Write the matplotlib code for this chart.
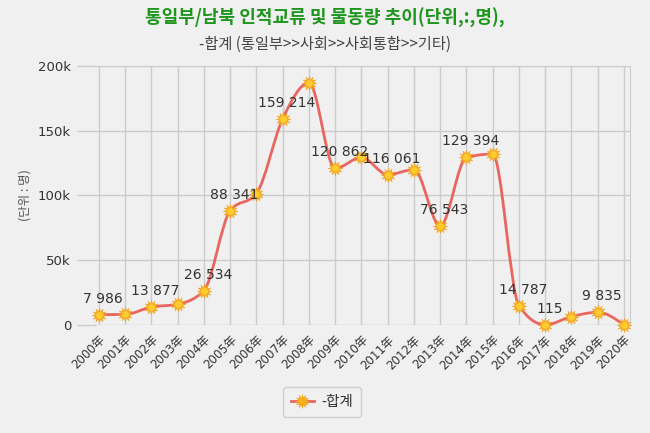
import matplotlib
matplotlib.use("Agg")
import matplotlib.pyplot as plt
import numpy as np
from matplotlib.path import Path
from matplotlib.patches import PathPatch
from matplotlib.lines import Line2D

plt.rcParams['font.family'] = ['Noto Sans CJK KR', 'DejaVu Sans']

years = [f"{y}年" for y in range(2000, 2021)]
values = [7986, 8200, 13877, 16000, 26534, 88341, 101500, 159214, 187000, 120862,
          129500, 116061, 120000, 76543, 129394, 132000, 14787, 115, 6500, 9835, 0]
labeled = [0, 2, 4, 5, 7, 9, 11, 13, 14, 16, 17, 19]
yticks = [0, 50000, 100000, 150000, 200000]
ytick_labels = ["0", "50k", "100k", "150k", "200k"]
title = "통일부/남북 인적교류 및 물동량 추이(단위,:,명),"
subtitle = "-합계 (통일부>>사회>>사회통합>>기타)"
series_name = "-합계"
ylabel = "(단위 : 명)"

bg = "#f0f0f0"
line_color = "#e8665f"

fig = plt.figure(figsize=(6.5, 4.33), dpi=100, facecolor=bg)
W, H = 650, 433
left, right, top, bottom = 96, 630, 66, 325
ax = fig.add_axes([left / W, 1 - bottom / H, (right - left) / W, (bottom - top) / H])
ax.set_facecolor(bg)

x = np.arange(len(values), dtype=float)
y = np.array(values, dtype=float)
n = len(x)

# monotone cubic (Steffen) tangents -> cubic Bezier path in data coordinates
s = np.diff(y) / np.diff(x)
t = np.zeros(n)
for i in range(1, n - 1):
    h0, h1 = x[i] - x[i - 1], x[i + 1] - x[i]
    p = (s[i - 1] * h1 + s[i] * h0) / (h0 + h1)
    t[i] = (np.sign(s[i - 1]) + np.sign(s[i])) * min(abs(s[i - 1]), abs(s[i]), 0.5 * abs(p))
t[0] = (3 * s[0] - t[1]) / 2
t[-1] = (3 * s[-1] - t[-2]) / 2
verts = [(x[0], y[0])]
codes = [Path.MOVETO]
for i in range(n - 1):
    dx = (x[i + 1] - x[i]) / 3
    verts += [(x[i] + dx, y[i] + dx * t[i]), (x[i + 1] - dx, y[i + 1] - dx * t[i + 1]),
              (x[i + 1], y[i + 1])]
    codes += [Path.CURVE4] * 3
ax.add_patch(PathPatch(Path(verts, codes), facecolor='none', edgecolor=line_color,
                       lw=2, zorder=3, clip_on=False))

# sun-like markers
ax.plot(x, y, linestyle='none', marker=(12, 1, 0), markersize=10.5,
        markerfacecolor='#f7b21a', markeredgecolor='#f0a020', markeredgewidth=0.4,
        zorder=4, clip_on=False)
ax.plot(x, y, linestyle='none', marker='o', markersize=5.5,
        markerfacecolor='#ffcc2e', markeredgecolor='#f5a623', markeredgewidth=0.5,
        zorder=5, clip_on=False)

h1 = Line2D([], [], color=line_color, lw=2, marker=(12, 1, 0), markersize=10,
            markerfacecolor='#f7b21a', markeredgecolor='#f0a020', markeredgewidth=0.4)
leg = fig.legend([h1], [series_name], loc='center', bbox_to_anchor=(322 / W, 1 - 402 / H),
                 frameon=True, fontsize=10.5, handlelength=1.6, handletextpad=0.5,
                 borderpad=0.55, fancybox=True)
leg.get_frame().set_facecolor(bg)
leg.get_frame().set_edgecolor('#c8c8c8')
for tx in leg.get_texts():
    tx.set_color('#333333')

for i in labeled:
    ax.annotate(f"{values[i]:,}".replace(",", " "), (x[i], y[i]), xytext=(4, 9),
                textcoords='offset pixels', ha='center', va='bottom',
                fontsize=10, color='#333333', family=['DejaVu Sans'], zorder=6)

ax.set_xlim(-0.11, 20.23)
ax.set_ylim(0, 200000)
ax.set_yticks(yticks)
ax.set_yticklabels(ytick_labels)
ax.set_xticks(x)
ax.set_xticklabels(years, rotation=45, ha='right', va='top', rotation_mode='anchor')
ax.tick_params(axis='y', length=14, width=1, color='#cccccc', pad=4,
               labelsize=9.5, labelcolor='#333333')
ax.tick_params(axis='x', length=0, pad=6, labelsize=8.5, labelcolor='#333333')
ax.grid(True, color='#cccccc', lw=1)
ax.set_axisbelow(True)
for sp in ax.spines.values():
    sp.set_visible(False)
ax.spines['right'].set_visible(True)
ax.spines['right'].set_color('#cccccc')
ax.spines['top'].set_visible(True)
ax.spines['top'].set_color('#cccccc')
for lab in ax.get_xticklabels():
    lab.set_family(['DejaVu Sans', 'Noto Sans CJK KR'])
for lab in ax.get_yticklabels():
    lab.set_family(['DejaVu Sans'])

ax.set_ylabel(ylabel, fontsize=9, color='#555555')
ax.yaxis.set_label_coords(-(left - 32) / (right - left), 0.5)

fig.text(0.5, 1 - 18 / H, title, ha='center', va='center', fontsize=13,
         fontweight='bold', color='#1e961e')
fig.text(0.5, 1 - 44 / H, subtitle, ha='center', va='center', fontsize=11,
         color='#444444')

fig.savefig("out.png", dpi=100, facecolor=bg)
